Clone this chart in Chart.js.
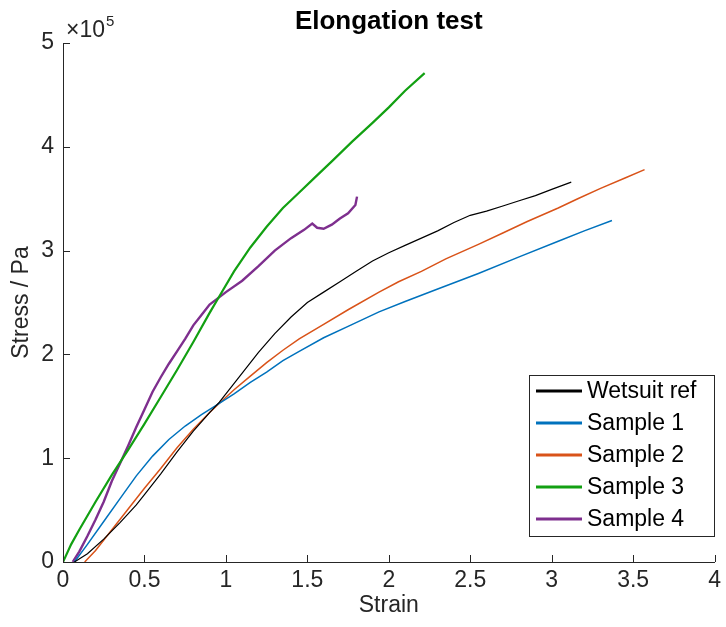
<!DOCTYPE html>
<html>
<head>
<meta charset="utf-8">
<script src="https://cdn.jsdelivr.net/npm/chart.js@4.4.1/dist/chart.umd.min.js"></script>
<style>
html,body{margin:0;padding:0;background:#fff;}
canvas{display:block;}
</style>
</head>
<body>
<canvas id="c" width="726" height="627"></canvas>
<script>
// ---- data (stress in units of 1e5 Pa, as on the axis) ----
const chartTitle = 'Elongation test';
const xAxisTitle = 'Strain';
const yAxisTitle = 'Stress / Pa';
const seriesNames = ['Wetsuit ref', 'Sample 1', 'Sample 2', 'Sample 3', 'Sample 4'];
const seriesColors = ['#000000', '#0072BD', '#D95319', '#12A012', '#7E2F8E'];
const xTickValues = [0, 0.5, 1, 1.5, 2, 2.5, 3, 3.5, 4];
const yTickValues = [0, 1, 2, 3, 4, 5];

const wetsuitStrain = [0.07,0.15,0.25,0.35,0.45,0.5,0.6,0.7,0.8,0.9,0.96,1.03,1.1,1.2,1.3,1.4,1.5,1.6,1.7,1.8,1.9,2.0,2.1,2.2,2.3,2.4,2.5,2.6,2.7,2.8,2.9,3.0,3.12];
const wetsuitStress = [0,0.08,0.22,0.38,0.55,0.65,0.85,1.06,1.26,1.44,1.54,1.68,1.82,2.02,2.2,2.36,2.5,2.6,2.7,2.8,2.9,2.98,3.05,3.12,3.19,3.27,3.34,3.38,3.43,3.48,3.53,3.59,3.66];

const sample1Strain = [0.07,0.15,0.25,0.35,0.45,0.55,0.65,0.75,0.85,0.94,1.05,1.15,1.25,1.35,1.45,1.6,1.75,1.94,2.1,2.3,2.55,2.8,3.04,3.2,3.37];
const sample1Stress = [0,0.17,0.39,0.61,0.83,1.02,1.18,1.31,1.42,1.51,1.62,1.73,1.83,1.94,2.03,2.16,2.27,2.41,2.51,2.63,2.78,2.94,3.09,3.19,3.29];

const sample2Strain = [0.133,0.2,0.3,0.4,0.5,0.6,0.7,0.8,0.9,0.96,1.05,1.15,1.25,1.35,1.45,1.6,1.75,1.94,2.06,2.2,2.35,2.55,2.7,2.85,3.04,3.16,3.3,3.45,3.57];
const sample2Stress = [0,0.11,0.31,0.51,0.71,0.9,1.1,1.28,1.44,1.53,1.66,1.79,1.92,2.04,2.15,2.29,2.43,2.6,2.7,2.8,2.92,3.06,3.17,3.28,3.41,3.5,3.6,3.7,3.78];

const sample3Strain = [0,0.05,0.1,0.2,0.3,0.4,0.5,0.6,0.7,0.8,0.9,0.96,1.05,1.15,1.25,1.35,1.45,1.55,1.65,1.775,1.9,2.0,2.1,2.22];
const sample3Stress = [0,0.17,0.31,0.58,0.84,1.08,1.33,1.59,1.85,2.12,2.4,2.56,2.8,3.03,3.23,3.41,3.56,3.71,3.86,4.05,4.23,4.38,4.54,4.71];

const sample4Strain = [0.06,0.1,0.15,0.2,0.25,0.3,0.35,0.4,0.45,0.5,0.55,0.6,0.65,0.7,0.75,0.8,0.85,0.9,0.95,1.0,1.1,1.2,1.3,1.4,1.48,1.53,1.56,1.6,1.65,1.7,1.75,1.795,1.805];
const sample4Stress = [0,0.1,0.25,0.41,0.58,0.78,0.95,1.12,1.3,1.47,1.64,1.78,1.91,2.03,2.15,2.28,2.38,2.48,2.54,2.6,2.71,2.85,3.0,3.12,3.2,3.26,3.22,3.21,3.25,3.31,3.36,3.44,3.52];

// ---- styling ----
const FONT = "'Liberation Sans', Helvetica, Arial, sans-serif";
const AXIS = '#262626';
const lineWidths = [1.2, 1.5, 1.5, 2.2, 2.4];

const strains = [wetsuitStrain, sample1Strain, sample2Strain, sample3Strain, sample4Strain];
const stresses = [wetsuitStress, sample1Stress, sample2Stress, sample3Stress, sample4Stress];

const datasets = seriesNames.map((name, i) => ({
  label: name,
  data: strains[i].map((s, k) => ({ x: s, y: stresses[i][k] })),
  borderColor: seriesColors[i],
  backgroundColor: seriesColors[i],
  borderWidth: lineWidths[i],
  pointRadius: 0,
  tension: 0,
  fill: false
}));

const decor = {
  id: 'decor',
  afterDraw(chart) {
    const { ctx, chartArea: a, scales: { x, y } } = chart;
    ctx.save();
    // inward tick marks
    const TL = 7;
    ctx.strokeStyle = AXIS;
    ctx.lineWidth = 1;
    ctx.beginPath();
    x.ticks.forEach(t => {
      const px = Math.round(x.getPixelForValue(t.value)) + 0.5;
      ctx.moveTo(px, a.bottom);
      ctx.lineTo(px, a.bottom - TL);
    });
    y.ticks.forEach(t => {
      const py = Math.round(y.getPixelForValue(t.value)) + 0.5;
      ctx.moveTo(a.left, py);
      ctx.lineTo(a.left + TL, py);
    });
    ctx.stroke();

    // exponent label  x10^5
    ctx.fillStyle = AXIS;
    ctx.textAlign = 'left';
    ctx.textBaseline = 'alphabetic';
    ctx.font = '23px ' + FONT;
    ctx.fillText('\u00d710', a.left + 3, 37);
    const w = ctx.measureText('\u00d710').width;
    ctx.font = '15px ' + FONT;
    ctx.fillText('5', a.left + 3 + w + 1, 26);

    // title
    ctx.fillStyle = '#000';
    ctx.font = 'bold 26px ' + FONT;
    ctx.textAlign = 'center';
    ctx.textBaseline = 'middle';
    ctx.fillText(chartTitle, (a.left + a.right) / 2, 22);

    // legend
    const bx = 529.5, by = 375.5, bw = 185, bh = 161;
    ctx.fillStyle = '#fff';
    ctx.fillRect(bx, by, bw, bh);
    ctx.strokeStyle = AXIS;
    ctx.lineWidth = 1;
    ctx.strokeRect(bx, by, bw, bh);
    ctx.font = '23px ' + FONT;
    ctx.textAlign = 'left';
    ctx.textBaseline = 'middle';
    chart.data.datasets.forEach((ds, i) => {
      const cy = 391 + i * 32;
      ctx.strokeStyle = ds.borderColor;
      ctx.lineWidth = 3;
      ctx.beginPath();
      ctx.moveTo(536, cy);
      ctx.lineTo(582, cy);
      ctx.stroke();
      ctx.fillStyle = '#000';
      ctx.fillText(ds.label, 587, cy + 1);
    });
    ctx.restore();
  }
};

new Chart(document.getElementById('c'), {
  type: 'line',
  data: { datasets },
  plugins: [decor],
  options: {
    responsive: false,
    animation: false,
    layout: { padding: { top: 43, right: 9, left: 0, bottom: 0 } },
    plugins: {
      legend: { display: false },
      title: { display: false },
      tooltip: { enabled: false }
    },
    scales: {
      x: {
        type: 'linear',
        min: 0, max: 4,
        afterFit(s) { s.height = 65; },
        afterBuildTicks(s) { s.ticks = xTickValues.map(v => ({ value: v })); },
        grid: { display: false, drawTicks: false },
        border: { display: true, color: AXIS, width: 1 },
        ticks: {
          color: AXIS, font: { size: 23, family: FONT }, padding: 5,
          maxRotation: 0, autoSkip: false,
          callback: v => String(v)
        },
        title: {
          display: true, text: xAxisTitle, color: AXIS,
          font: { size: 23, family: FONT }, padding: { top: 0, bottom: 8 }
        }
      },
      y: {
        type: 'linear',
        min: 0, max: 5,
        afterFit(s) { s.width = 63; },
        afterBuildTicks(s) { s.ticks = yTickValues.map(v => ({ value: v })); },
        grid: { display: false, drawTicks: false },
        border: { display: true, color: AXIS, width: 1 },
        ticks: {
          color: AXIS, font: { size: 23, family: FONT }, padding: 9,
          autoSkip: false,
          callback: v => String(v)
        },
        title: {
          display: true, text: yAxisTitle, color: AXIS,
          font: { size: 23, family: FONT }, padding: { top: 8, bottom: 0 }
        }
      }
    }
  }
});
</script>
</body>
</html>
